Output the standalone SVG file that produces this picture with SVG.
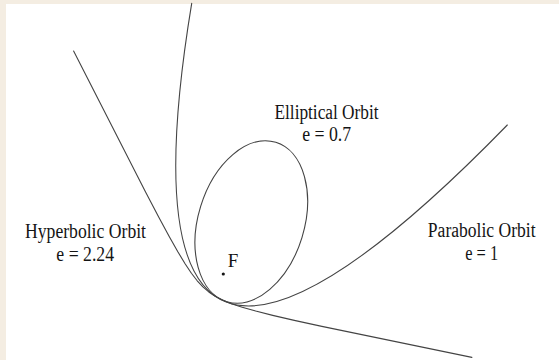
<svg xmlns="http://www.w3.org/2000/svg" width="559" height="360" viewBox="0 0 559 360">
<style>
.orbit{fill:none;stroke:#444444;stroke-width:1.1;stroke-linejoin:round;stroke-linecap:round}
.lbl{font-family:"Liberation Serif","Times New Roman",serif;font-size:20px;fill:#141414;text-anchor:middle}
</style>
<rect x="0" y="0" width="559" height="360" fill="#f4ede2"/>
<rect x="6" y="4" width="553" height="356" fill="#ffffff"/>
<g id="parabolic-orbit">
<path class="orbit" d="M191.7,3.3 Q103,540 507.3,125"/>
<text class="lbl" x="481.7" y="237" textLength="107.7" lengthAdjust="spacingAndGlyphs">Parabolic Orbit</text>
<text class="lbl" x="481.7" y="259.5" textLength="33" lengthAdjust="spacingAndGlyphs">e = 1</text>
</g>
<g id="hyperbolic-orbit">
<path class="orbit" d="M73.6,51.1 L145.56,192.05 L158.67,216.96 L169.21,236.46 L177.84,251.74 L185.08,263.74 L191.41,273.21 L197.22,280.78 L202.88,286.9 L208.74,291.94 L215.17,296.25 L222.56,300.09 L231.38,303.69 L242.2,307.27 L255.7,311.09 L272.71,315.35 L294.31,320.35 L321.87,326.37 L471.9,357.4"/>
<text class="lbl" x="85.5" y="237.5" textLength="121" lengthAdjust="spacingAndGlyphs">Hyperbolic Orbit</text>
<text class="lbl" x="85.2" y="260.5" textLength="57.7" lengthAdjust="spacingAndGlyphs">e = 2.24</text>
</g>
<g id="elliptical-orbit">
<ellipse class="orbit" cx="251.3" cy="222" rx="53" ry="83.4" transform="rotate(17.1 251.3 222)"/>
<text class="lbl" x="326.5" y="118.5" textLength="104" lengthAdjust="spacingAndGlyphs">Elliptical Orbit</text>
<text class="lbl" x="326.7" y="141" textLength="49" lengthAdjust="spacingAndGlyphs">e = 0.7</text>
</g>
<g id="focus">
<circle cx="223.3" cy="274" r="1.6" fill="#141414"/>
<text class="lbl" x="233" y="267" style="font-size:19px">F</text>
</g>
<g id="connectors"/>
</svg>
